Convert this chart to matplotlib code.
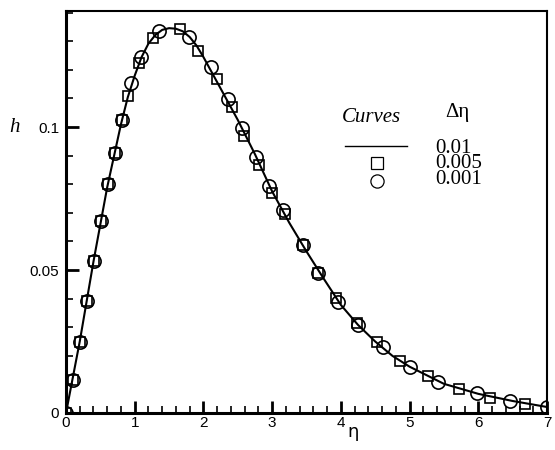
import numpy as np
import matplotlib
matplotlib.use("Agg")
import matplotlib.pyplot as plt
from matplotlib.ticker import FixedLocator

# d_eta = 0.01 (solid line)
eta_line = [0, 0.1, 0.2, 0.3, 0.4, 0.5, 0.6, 0.7, 0.8, 0.9, 1.0, 1.1, 1.2, 1.3, 1.4,
            1.5, 1.6, 1.7, 1.8, 1.9, 2.0, 2.25, 2.5, 2.75, 3.0, 3.25, 3.5, 3.75,
            4.0, 4.25, 4.5, 4.75, 5.0, 5.5, 6.0, 6.5, 7.0]
h_line = [0, 0.0125, 0.025, 0.039, 0.053, 0.066, 0.079, 0.090, 0.101, 0.1105, 0.118,
          0.1245, 0.1292, 0.1322, 0.1340, 0.1346, 0.1344, 0.1335, 0.1315, 0.1285,
          0.1245, 0.1135, 0.1025, 0.0905, 0.0775, 0.0665, 0.0565, 0.047,
          0.0378, 0.0308, 0.0250, 0.0200, 0.0162, 0.0102, 0.0067, 0.0042, 0.0021]

# d_eta = 0.005 (squares)
eta_sq = [0, 0.1, 0.2, 0.3, 0.41, 0.51, 0.61, 0.71, 0.82, 0.90, 1.06, 1.27, 1.66,
          1.92, 2.20, 2.42, 2.59, 2.81, 3.0, 3.18, 3.45, 3.67, 3.93, 4.24, 4.53,
          4.86, 5.27, 5.72, 6.17, 6.68]
h_sq = [0, 0.0115, 0.025, 0.039, 0.053, 0.067, 0.080, 0.091, 0.1025, 0.111, 0.1224,
        0.1311, 0.1343, 0.1266, 0.1168, 0.107, 0.0969, 0.0867, 0.0769, 0.0695,
        0.0587, 0.049, 0.0402, 0.0315, 0.0248, 0.0182, 0.0129, 0.0084, 0.0052,
        0.0031]

# d_eta = 0.001 (circles)
eta_ci = [0, 0.1, 0.2, 0.3, 0.41, 0.51, 0.61, 0.71, 0.82, 0.95, 1.09, 1.35, 1.79,
          2.11, 2.36, 2.56, 2.77, 2.95, 3.16, 3.45, 3.67, 3.96, 4.25, 4.61, 5.0,
          5.41, 5.98, 6.46, 7.0]
h_ci = [0, 0.0115, 0.025, 0.039, 0.053, 0.067, 0.080, 0.091, 0.1025, 0.1154, 0.1245,
        0.1336, 0.1315, 0.121, 0.1098, 0.0997, 0.0895, 0.0794, 0.071, 0.0587,
        0.049, 0.0388, 0.0308, 0.0231, 0.0161, 0.0108, 0.0070, 0.0042, 0.0021]

xticks = [0, 1, 2, 3, 4, 5, 6, 7]
yticks = [0, 0.05, 0.1]
ytick_labels = ["0", "0.05", "0.1"]
legend_labels = ["0.01", "0.005", "0.001"]

fig = plt.figure(figsize=(5.55, 4.5), dpi=100)
ax = fig.add_axes([66/555, 1-413/450, 481/555, 402/450])

ax.plot(eta_line, h_line, color="black", lw=1.5, zorder=2)
ax.plot(eta_sq, h_sq, ls="none", marker="s", ms=7, mfc="none", mec="black", mew=1.2, zorder=3)
ax.plot(eta_ci, h_ci, ls="none", marker="o", ms=9.5, mfc="none", mec="black", mew=1.2, zorder=3)

ax.set_xlim(0, 7)
ax.set_ylim(0, 0.1406)
ax.xaxis.set_major_locator(FixedLocator(xticks))
ax.xaxis.set_minor_locator(FixedLocator(np.arange(0, 7.01, 0.2)))
ax.yaxis.set_major_locator(FixedLocator(yticks))
ax.yaxis.set_minor_locator(FixedLocator(np.arange(0, 0.1401, 0.01)))
ax.set_xticklabels([str(t) for t in xticks])
ax.set_yticklabels(ytick_labels)

ax.tick_params(which="both", direction="in", top=False, right=False)
ax.tick_params(which="major", length=9, width=2, labelsize=11, pad=2)
ax.tick_params(axis="y", which="major", pad=5)
ax.tick_params(which="minor", length=5, width=1.2)
for lab in ax.get_xticklabels() + ax.get_yticklabels():
    lab.set_family("Liberation Sans")

ax.spines["left"].set_linewidth(2.2)
ax.spines["bottom"].set_linewidth(2.2)
ax.spines["top"].set_linewidth(1.5)
ax.spines["right"].set_linewidth(1.5)

# axis titles
fig.text(15/555, 1-128/450, "h", family="Liberation Serif", style="italic",
         fontsize=15, ha="center", va="center")
fig.text(353/555, 1-432/450, "η", family="DejaVu Sans", fontsize=13,
         ha="center", va="center")

# legend drawn like the original table
serif = "Liberation Serif"
fig.text(371/555, 1-117/450, "Curves", family=serif, style="italic", fontsize=15,
         ha="center", va="center")
fig.text(457/555, 1-113/450, "Δη", family=serif, fontsize=15, ha="center", va="center")
fig.add_artist(plt.Line2D([345/555, 407/555], [1-146/450, 1-146/450], color="black", lw=1))
fig.add_artist(plt.Line2D([377/555], [1-163/450], marker="s", ms=8.5, mfc="none",
                          mec="black", mew=0.9, ls="none"))
fig.add_artist(plt.Line2D([377/555], [1-181/450], marker="o", ms=9.5, mfc="none",
                          mec="black", mew=0.9, ls="none"))
fig.text(435/555, 1-164/450, "\n".join(legend_labels), family=serif, fontsize=15,
         ha="left", va="center", linespacing=0.75)

fig.savefig("out.png", dpi=100)
